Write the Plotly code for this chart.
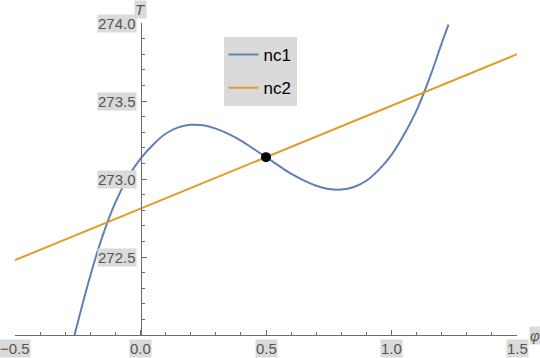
import plotly.graph_objects as go

# ---- data ----
phi_nc1 = [-0.27, -0.25, -0.20, -0.15, -0.10, -0.05, 0.00, 0.05, 0.10, 0.15,
           0.20, 0.25, 0.30, 0.35, 0.40, 0.45, 0.50, 0.55, 0.60, 0.65,
           0.70, 0.75, 0.80, 0.85, 0.90, 0.95, 1.00, 1.05, 1.10, 1.15,
           1.20, 1.227]
T_nc1 = [271.95, 272.08, 272.38, 272.64, 272.85, 273.01, 273.13, 273.22, 273.29, 273.331,
         273.347, 273.344, 273.323, 273.289, 273.246, 273.194, 273.14, 273.086, 273.034, 272.991,
         272.957, 272.936, 272.932, 272.949, 272.989, 273.06, 273.155, 273.285, 273.44, 273.64,
         273.87, 273.99]

phi_nc2 = [-0.5, 1.5]
T_nc2 = [272.48, 273.80]

fixed_phi = [0.5]
fixed_T = [273.14]

x_tick_vals = [-0.5, 0.0, 0.5, 1.0, 1.5]
x_tick_text = ["−0.5", "0.0", "0.5", "1.0", "1.5"]
y_tick_vals = [272.5, 273.0, 273.5, 274.0]
y_tick_text = ["272.5", "273.0", "273.5", "274.0"]

x_range = [-0.5, 1.5]
y_range = [272.0, 274.0]

BLUE = "#5E81B5"
ORANGE = "#E19C24"
AXIS = "#6b6b6b"
LABEL_BG = "#dadada"
LABEL_FG = "#555555"
FONT = "Liberation Sans, Arial, sans-serif"

fig = go.Figure()
fig.add_trace(go.Scatter(x=phi_nc1, y=T_nc1, mode="lines", name="nc1",
                         legendgroup="a",
                         line=dict(color=BLUE, width=2, shape="spline", smoothing=1)))
fig.add_trace(go.Scatter(x=phi_nc2, y=T_nc2, mode="lines", name="nc2",
                         legendgroup="b",
                         line=dict(color=ORANGE, width=2)))
fig.add_trace(go.Scatter(x=fixed_phi, y=fixed_T, mode="markers", showlegend=False,
                         marker=dict(color="black", size=10)))

annotations = []
for v, t in zip(y_tick_vals, y_tick_text):
    annotations.append(dict(x=0, y=v, xref="x", yref="y", text=t, showarrow=False,
                            xanchor="right", yanchor="middle", xshift=-4,
                            bgcolor=LABEL_BG, borderpad=0,
                            font=dict(family=FONT, size=15, color=LABEL_FG)))
for v, t in zip(x_tick_vals, x_tick_text):
    annotations.append(dict(x=v, y=y_range[0], xref="x", yref="y", text=t, showarrow=False,
                            xanchor="center", yanchor="middle", yshift=-13,
                            bgcolor=LABEL_BG, borderpad=0,
                            font=dict(family=FONT, size=15, color=LABEL_FG)))
annotations.append(dict(x=0, y=1, xref="x", yref="paper", text="<i>T</i>", showarrow=False,
                        xanchor="center", yanchor="middle", yshift=14,
                        bgcolor=LABEL_BG, borderpad=0,
                        font=dict(family=FONT, size=15, color=LABEL_FG)))
annotations.append(dict(x=x_range[1], y=y_range[0], xref="x", yref="y", text="<i>φ</i>",
                        showarrow=False, xanchor="left", yanchor="middle", xshift=12,
                        bgcolor=LABEL_BG, borderpad=0,
                        font=dict(family=FONT, size=15, color=LABEL_FG)))

fig.update_layout(
    width=540, height=358,
    margin=dict(l=15, r=23, t=23, b=23, autoexpand=False),
    paper_bgcolor="white", plot_bgcolor="white",
    font=dict(family=FONT),
    annotations=annotations,
    legend=dict(x=0.4155, y=0.955, xanchor="left", yanchor="top",
                bgcolor=LABEL_BG, borderwidth=0,
                font=dict(family=FONT, size=17, color="black"),
                traceorder="grouped", tracegroupgap=8, itemwidth=30),
    xaxis=dict(range=x_range, showgrid=False, zeroline=False, showline=True,
               linecolor=AXIS, linewidth=1, ticks="inside", ticklen=5, tickcolor=AXIS,
               tick0=0, dtick=0.5, showticklabels=False, fixedrange=True,
               minor=dict(ticks="inside", ticklen=3, tickcolor=AXIS, dtick=0.1,
                          showgrid=False)),
    yaxis=dict(range=y_range, showgrid=False, zeroline=False, showline=True,
               anchor="free", position=0.25, side="left",
               linecolor=AXIS, linewidth=1, ticks="inside", ticklen=5, tickcolor=AXIS,
               tick0=272, dtick=0.5, showticklabels=False, fixedrange=True,
               minor=dict(ticks="inside", ticklen=3, tickcolor=AXIS, dtick=0.1,
                          showgrid=False)),
)

fig.write_html("out.html")
